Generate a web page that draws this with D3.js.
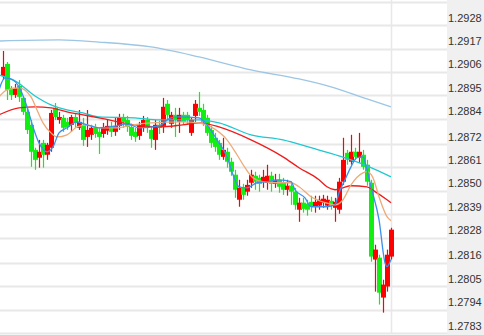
<!DOCTYPE html>
<html>
<head>
<meta charset="utf-8">
<script src="https://cdn.jsdelivr.net/npm/d3@7"></script>
<style>
  body { margin: 0; background: #fff; }
  #chart { width: 484px; height: 335px; }
  .tickLabel { font-family: "Liberation Sans", Arial, sans-serif; font-size: 11px; fill: #333; }
</style>
</head>
<body>
<div id="chart"></div>
<script>
// candle data (red = up, green = down)
var opens = [1.29041, 1.29098, 1.28985, 1.28952, 1.28994, 1.28938, 1.28872, 1.28811, 1.28693, 1.28656,
  1.28726, 1.28670, 1.28703, 1.28891, 1.28834, 1.28844, 1.28825, 1.28811, 1.28848, 1.28797,
  1.28811, 1.28754, 1.28764, 1.28797, 1.28778, 1.28768, 1.28783, 1.28806, 1.28778, 1.28806,
  1.28844, 1.28834, 1.28801, 1.28778, 1.28759, 1.28797, 1.28834, 1.28787, 1.28740, 1.28811,
  1.28806, 1.28910, 1.28816, 1.28858, 1.28825, 1.28858, 1.28858, 1.28773, 1.28853, 1.28891,
  1.28881, 1.28844, 1.28787, 1.28750, 1.28726, 1.28660, 1.28684, 1.28637, 1.28576, 1.28458,
  1.28514, 1.28496, 1.28538, 1.28571, 1.28561, 1.28543, 1.28538, 1.28571, 1.28533, 1.28552,
  1.28538, 1.28505, 1.28524, 1.28496, 1.28411, 1.28444, 1.28439, 1.28448, 1.28425, 1.28430,
  1.28444, 1.28430, 1.28453, 1.28420, 1.28411, 1.28543, 1.28679, 1.28637, 1.28684, 1.28656,
  1.28670, 1.28623, 1.28538, 1.28176, 1.28185, 1.27997, 1.28049, 1.28190];
var highs = [1.29159, 1.29107, 1.28994, 1.29004, 1.29022, 1.28947, 1.28891, 1.28834, 1.28703, 1.28740,
  1.28740, 1.28726, 1.28881, 1.28914, 1.28872, 1.28858, 1.28844, 1.28858, 1.28867, 1.28881,
  1.28844, 1.28881, 1.28811, 1.28816, 1.28797, 1.28820, 1.28834, 1.28825, 1.28844, 1.28863,
  1.28863, 1.28853, 1.28816, 1.28797, 1.28825, 1.28853, 1.28848, 1.28806, 1.28834, 1.28830,
  1.28938, 1.28928, 1.28872, 1.28891, 1.28891, 1.28872, 1.28872, 1.28844, 1.28928, 1.28966,
  1.28910, 1.28858, 1.28806, 1.28773, 1.28740, 1.28750, 1.28703, 1.28656, 1.28599, 1.28552,
  1.28533, 1.28552, 1.28599, 1.28590, 1.28576, 1.28599, 1.28623, 1.28590, 1.28580, 1.28580,
  1.28561, 1.28552, 1.28543, 1.28514, 1.28467, 1.28467, 1.28458, 1.28477, 1.28477, 1.28477,
  1.28481, 1.28477, 1.28472, 1.28467, 1.28561, 1.28750, 1.28693, 1.28764, 1.28703, 1.28773,
  1.28693, 1.28646, 1.28552, 1.28246, 1.28199, 1.28081, 1.28223, 1.28326];
var lows = [1.29022, 1.28928, 1.28928, 1.28938, 1.28919, 1.28858, 1.28768, 1.28613, 1.28599, 1.28609,
  1.28609, 1.28646, 1.28684, 1.28834, 1.28816, 1.28778, 1.28787, 1.28778, 1.28797, 1.28787,
  1.28712, 1.28707, 1.28740, 1.28750, 1.28674, 1.28750, 1.28764, 1.28754, 1.28759, 1.28787,
  1.28797, 1.28778, 1.28740, 1.28731, 1.28740, 1.28778, 1.28773, 1.28703, 1.28693, 1.28768,
  1.28773, 1.28834, 1.28797, 1.28754, 1.28773, 1.28811, 1.28816, 1.28759, 1.28825, 1.28853,
  1.28806, 1.28759, 1.28703, 1.28684, 1.28646, 1.28646, 1.28609, 1.28571, 1.28467, 1.28425,
  1.28458, 1.28477, 1.28514, 1.28505, 1.28496, 1.28514, 1.28505, 1.28496, 1.28514, 1.28491,
  1.28481, 1.28477, 1.28434, 1.28411, 1.28354, 1.28397, 1.28383, 1.28401, 1.28397, 1.28411,
  1.28420, 1.28411, 1.28411, 1.28354, 1.28392, 1.28528, 1.28623, 1.28623, 1.28646, 1.28632,
  1.28599, 1.28524, 1.28166, 1.28025, 1.27964, 1.27926, 1.28025, 1.28176];
var closes = [1.29084, 1.28976, 1.28952, 1.28985, 1.28943, 1.28872, 1.28787, 1.28684, 1.28646, 1.28684,
  1.28670, 1.28717, 1.28867, 1.28848, 1.28848, 1.28797, 1.28801, 1.28848, 1.28820, 1.28825,
  1.28740, 1.28787, 1.28797, 1.28768, 1.28754, 1.28801, 1.28806, 1.28778, 1.28806, 1.28844,
  1.28825, 1.28801, 1.28759, 1.28754, 1.28806, 1.28834, 1.28801, 1.28745, 1.28811, 1.28797,
  1.28896, 1.28858, 1.28858, 1.28834, 1.28858, 1.28825, 1.28834, 1.28834, 1.28910, 1.28872,
  1.28825, 1.28773, 1.28726, 1.28707, 1.28670, 1.28693, 1.28637, 1.28590, 1.28505, 1.28514,
  1.28481, 1.28528, 1.28576, 1.28543, 1.28533, 1.28566, 1.28571, 1.28533, 1.28552, 1.28519,
  1.28505, 1.28524, 1.28496, 1.28434, 1.28444, 1.28415, 1.28411, 1.28425, 1.28448, 1.28458,
  1.28463, 1.28458, 1.28430, 1.28448, 1.28543, 1.28646, 1.28646, 1.28684, 1.28660, 1.28684,
  1.28613, 1.28543, 1.28190, 1.28223, 1.28020, 1.28058, 1.28199, 1.28317];

// moving average lines, read at some candle positions
var maLongIdx = [-1, 14, 24, 37, 49, 62, 74, 82, 91, 97];
var maLongVal = [1.29206, 1.29211, 1.29201, 1.29178, 1.29131, 1.29070, 1.29027, 1.28990, 1.28933, 1.28896];

var maCyanIdx = [-1, 3, 8, 12, 16, 20, 24, 33, 39, 49, 54, 62, 70, 77, 84, 91, 97];
var maCyanVal = [1.29046, 1.29018, 1.28947, 1.28905, 1.28881, 1.28867, 1.28848, 1.28844, 1.28834, 1.28834,
  1.28820, 1.28764, 1.28740, 1.28703, 1.28665, 1.28618, 1.28566];

var maRedIdx = [-1, 4, 8, 12, 16, 20, 24, 33, 39, 45, 49, 54, 62, 70, 74, 79, 81, 83, 85, 87, 91, 93, 96, 97];
var maRedVal = [1.28858, 1.28891, 1.28896, 1.28891, 1.28872, 1.28858, 1.28844, 1.28811, 1.28801, 1.28811,
  1.28820, 1.28801, 1.28740, 1.28660, 1.28609, 1.28552, 1.28519, 1.28505, 1.28514, 1.28524,
  1.28519, 1.28496, 1.28458, 1.28444];

var maTanIdx = [-1, 1, 4, 7, 8.5, 10, 12, 13.5, 16, 18.5, 21, 24, 28.5, 32.5, 37, 45, 49, 52, 56, 58.5,
  60.5, 62.5, 65, 68.5, 72, 74, 77, 80.5, 83, 85, 87, 90, 91, 92.5, 94, 96, 97];
var maTanVal = [1.28943, 1.28976, 1.28985, 1.28943, 1.28881, 1.28820, 1.28773, 1.28754, 1.28764, 1.28801,
  1.28811, 1.28797, 1.28797, 1.28811, 1.28820, 1.28825, 1.28820, 1.28801, 1.28740, 1.28670,
  1.28609, 1.28561, 1.28543, 1.28538, 1.28538, 1.28519, 1.28472, 1.28444, 1.28434, 1.28458,
  1.28528, 1.28585, 1.28590, 1.28561, 1.28472, 1.28378, 1.28359];

var maBlueIdx = [-1, 0.5, 2.5, 4, 6, 7.5, 9, 11, 12.5, 14, 16, 18.5, 21, 24, 28.5, 31, 34, 39, 42, 44,
  49, 51, 53.5, 56, 57.5, 59, 61, 63.5, 66, 69, 72, 73, 75.5, 77, 80.5, 83, 84, 85.5, 87, 88.5,
  90, 91, 92, 94, 95.5, 96, 97];
var maBlueVal = [1.28976, 1.29032, 1.29022, 1.28990, 1.28896, 1.28801, 1.28726, 1.28684, 1.28707, 1.28773,
  1.28797, 1.28825, 1.28811, 1.28797, 1.28806, 1.28816, 1.28797, 1.28806, 1.28844, 1.28848,
  1.28844, 1.28811, 1.28740, 1.28660, 1.28576, 1.28519, 1.28514, 1.28538, 1.28543, 1.28552,
  1.28543, 1.28505, 1.28467, 1.28425, 1.28425, 1.28434, 1.28491, 1.28552, 1.28613, 1.28656,
  1.28660, 1.28599, 1.28519, 1.28364, 1.28161, 1.28143, 1.28176];

// right axis labels
var tickVals = [1.2928, 1.2917, 1.2906, 1.2895, 1.2884, 1.2872, 1.2861, 1.2850, 1.2839, 1.2828,
  1.2816, 1.2805, 1.2794, 1.2783];

var width = 484;
var height = 335;
var plotRight = 391;
var axisLeft = 447;

var svg = d3
  .select("#chart")
  .append("svg")
  .attr("width", width)
  .attr("height", height);

// scales
var xScale = d3.scaleLinear().domain([0, closes.length - 1]).range([3, 391]);
var yScale = d3.scaleLinear().domain([1.2783, 1.2928]).range([333, 25.3]);

// axis panel background
svg.append("rect")
  .attr("x", axisLeft)
  .attr("y", 0)
  .attr("width", width - axisLeft)
  .attr("height", height)
  .attr("fill", "#f0f0f0");

// horizontal grid lines (plus one above the top label)
var gridVals = [1.2939].concat(tickVals);
svg.append("g")
  .selectAll("line")
  .data(gridVals)
  .enter()
  .append("line")
  .attr("x1", 0)
  .attr("x2", axisLeft)
  .attr("y1", function(d) { return Math.round(yScale(d)) + 0.5; })
  .attr("y2", function(d) { return Math.round(yScale(d)) + 0.5; })
  .attr("stroke", "#e8e8e8")
  .attr("stroke-width", 2);

// vertical line at end of data
svg.append("line")
  .attr("x1", plotRight + 0.5)
  .attr("x2", plotRight + 0.5)
  .attr("y1", 0)
  .attr("y2", 333)
  .attr("stroke", "#e8e8e8")
  .attr("stroke-width", 1.5);

// clip for the plot area
svg.append("clipPath")
  .attr("id", "plotClip")
  .append("rect")
  .attr("x", 0)
  .attr("y", 0)
  .attr("width", plotRight + 3)
  .attr("height", 333);

var plot = svg.append("g").attr("clip-path", "url(#plotClip)");

// candles
var candles = d3.range(closes.length).map(function(i) {
  return { i: i, o: opens[i], h: highs[i], l: lows[i], c: closes[i] };
});

function candleColor(d) {
  return d.c >= d.o ? "#ff0000" : "#11ee11";
}

var candleG = plot.append("g");

candleG.selectAll("line")
  .data(candles)
  .enter()
  .append("line")
  .attr("x1", function(d) { return Math.round(xScale(d.i)) + 0.5; })
  .attr("x2", function(d) { return Math.round(xScale(d.i)) + 0.5; })
  .attr("y1", function(d) { return yScale(d.h); })
  .attr("y2", function(d) { return yScale(d.l); })
  .attr("stroke", candleColor)
  .attr("stroke-width", 1.2);

candleG.selectAll("rect")
  .data(candles)
  .enter()
  .append("rect")
  .attr("x", function(d) { return Math.round(xScale(d.i)) - 2; })
  .attr("width", 5)
  .attr("y", function(d) { return yScale(Math.max(d.o, d.c)); })
  .attr("height", function(d) {
    return Math.max(1, Math.abs(yScale(d.o) - yScale(d.c)));
  })
  .attr("fill", candleColor);

// moving averages
var line = d3.line()
  .x(function(d) { return xScale(d[0]); })
  .y(function(d) { return yScale(d[1]); })
  .curve(d3.curveMonotoneX);

function drawMa(idx, vals, color) {
  plot.append("path")
    .datum(d3.zip(idx, vals))
    .attr("d", line)
    .attr("fill", "none")
    .attr("stroke", color)
    .attr("stroke-width", 1.3);
}

drawMa(maLongIdx, maLongVal, "#9cc6e4");
drawMa(maCyanIdx, maCyanVal, "#1fc8d0");
drawMa(maRedIdx, maRedVal, "#ee1c1c");
drawMa(maTanIdx, maTanVal, "#eeaa78");
drawMa(maBlueIdx, maBlueVal, "#3a8ff0");

// right axis
var yAxis = d3.axisRight(yScale)
  .tickValues(tickVals)
  .tickFormat(d3.format(".4f"))
  .tickSize(0)
  .tickPadding(1);

var axisG = svg.append("g")
  .attr("transform", "translate(" + axisLeft + ",0)")
  .call(yAxis);

axisG.select(".domain").remove();
axisG.selectAll("text")
  .attr("class", "tickLabel")
  .attr("y", -4)
  .attr("dy", null)
  .attr("font-family", null)
  .attr("font-size", null)
  .attr("fill", null);
</script>
</body>
</html>
